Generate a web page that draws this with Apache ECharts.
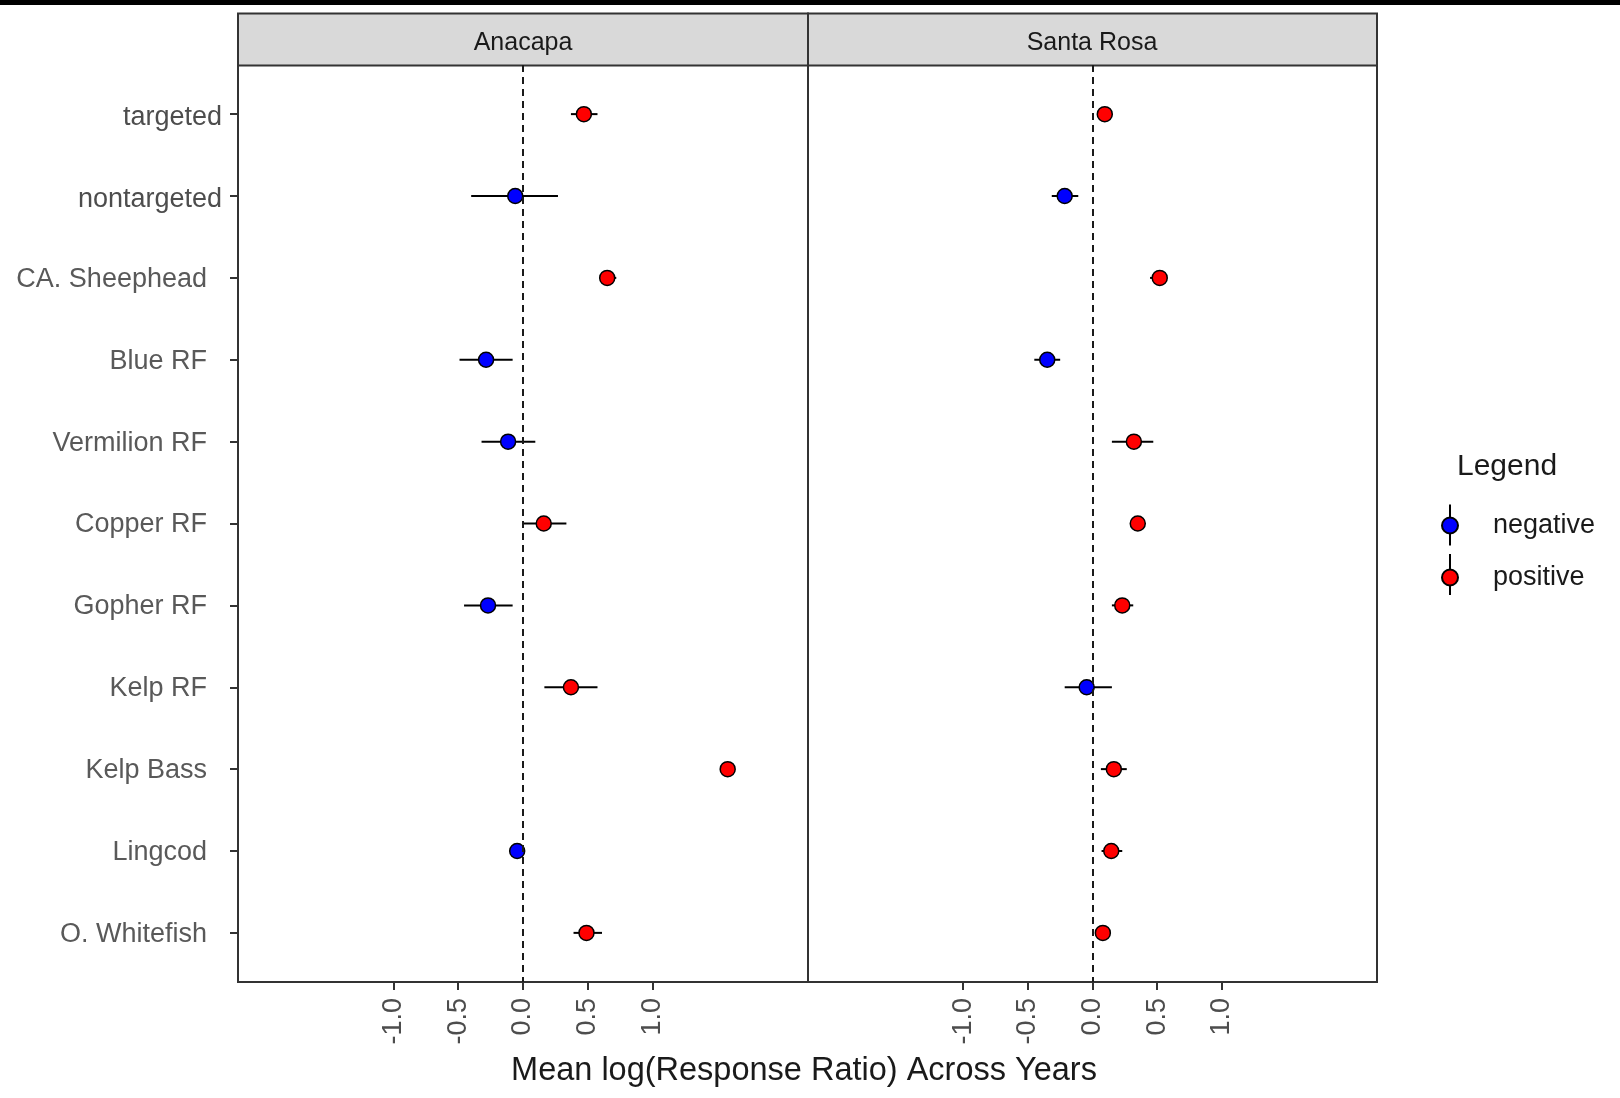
<!DOCTYPE html>
<html>
<head>
<meta charset="utf-8">
<title>Mean log(Response Ratio) Across Years</title>
<script src="https://cdn.jsdelivr.net/npm/echarts@6.0.0/dist/echarts.min.js"></script>
<style>
  html, body { margin: 0; padding: 0; background: #fff; }
  #chart { width: 1620px; height: 1098px; }
</style>
</head>
<body>
<div id="chart"></div>
<script>
// categories, top to bottom
const species = ['targeted', 'nontargeted', 'CA. Sheephead', 'Blue RF', 'Vermilion RF',
  'Copper RF', 'Gopher RF', 'Kelp RF', 'Kelp Bass', 'Lingcod', 'O. Whitefish'];
const sites = ['Anacapa', 'Santa Rosa'];

// mean log response ratio and interval ends
const anacapaMean = [0.47, -0.06, 0.65, -0.285, -0.115, 0.16, -0.27, 0.37, 1.58, -0.045, 0.49];
const anacapaLow  = [0.37, -0.40, 0.60, -0.49, -0.32, 0.00, -0.455, 0.165, 1.56, -0.065, 0.39];
const anacapaHigh = [0.575, 0.27, 0.72, -0.08, 0.095, 0.335, -0.08, 0.575, 1.60, -0.025, 0.61];

const santaRosaMean = [0.095, -0.215, 0.52, -0.35, 0.32, 0.35, 0.23, -0.045, 0.165, 0.145, 0.08];
const santaRosaLow  = [0.075, -0.315, 0.445, -0.45, 0.15, 0.32, 0.15, -0.215, 0.065, 0.07, 0.06];
const santaRosaHigh = [0.115, -0.11, 0.56, -0.25, 0.47, 0.38, 0.315, 0.15, 0.265, 0.23, 0.10];

const xTicks = [-1, -0.5, 0, 0.5, 1];
const yTicks = [1, 2, 3, 4, 5, 6, 7, 8, 9, 10, 11];

const font = "'Liberation Sans', Arial, sans-serif";
const myChart = echarts.init(document.getElementById('chart'));

function pts(mean, sign) {
  const out = [];
  mean.forEach((v, i) => {
    if ((sign < 0 && v < 0) || (sign > 0 && v >= 0)) out.push([v, i + 1]);
  });
  return out;
}

function bars(low, high) {
  return low.map((v, i) => [v, high[i], i + 1]);
}

function errSeries(k, low, high) {
  return {
    type: 'custom',
    xAxisIndex: k, yAxisIndex: k,
    z: 2,
    data: bars(low, high),
    renderItem: function (params, api) {
      const a = api.coord([api.value(0), api.value(2)]);
      const b = api.coord([api.value(1), api.value(2)]);
      return {
        type: 'line',
        shape: { x1: a[0], y1: a[1], x2: b[0], y2: b[1] },
        style: { stroke: '#000', lineWidth: 2 }
      };
    },
    markLine: {
      silent: true,
      symbol: 'none',
      label: { show: false },
      lineStyle: { color: '#1a1a1a', width: 2, type: [7, 5] },
      data: [{ xAxis: 0 }]
    }
  };
}

function pointSeries(k, name, data, color) {
  return {
    type: 'scatter',
    name: name,
    xAxisIndex: k, yAxisIndex: k,
    z: 3,
    symbol: 'circle',
    symbolSize: 15,
    data: data,
    itemStyle: { color: color, borderColor: '#000', borderWidth: 1.5, opacity: 1 }
  };
}

function xAxisOf(k) {
  return {
    type: 'value',
    gridIndex: k,
    min: -2.2,
    max: 2.2,
    splitLine: { show: false },
    axisLine: { show: false, onZero: false },
    axisTick: { show: true, customValues: xTicks, length: 8, lineStyle: { color: '#333', width: 2 } },
    axisLabel: {
      customValues: xTicks,
      rotate: 90,
      margin: 16,
      fontSize: 27,
      fontFamily: font,
      color: '#4d4d4d',
      formatter: v => v.toFixed(1)
    }
  };
}

function yAxisOf(k) {
  return {
    type: 'value',
    gridIndex: k,
    min: 0.4,
    max: 11.6,
    inverse: true,
    splitLine: { show: false },
    axisLine: { show: false, onZero: false },
    axisTick: { show: k === 0, customValues: yTicks, length: 8, lineStyle: { color: '#333', width: 2 } },
    axisLabel: {
      show: k === 0,
      customValues: yTicks,
      margin: 16,
      formatter: function (v) {
        const i = Math.round(v) - 1;
        return i < 2 ? '{t|' + species[i] + '}' : '{s|' + species[i] + '}';
      },
      rich: {
        t: { fontSize: 27, fontFamily: font, color: '#4d4d4d', padding: [7, 0, 0, 0] },
        s: { fontSize: 27, fontFamily: font, color: '#595959', padding: [3, 15, 0, 0] }
      }
    }
  };
}

const option = {
  backgroundColor: '#fff',
  animation: false,
  grid: [
    { left: 238, top: 65, width: 570, height: 917, show: true, borderColor: '#333', borderWidth: 2, backgroundColor: '#fff' },
    { left: 808, top: 65, width: 569, height: 917, show: true, borderColor: '#333', borderWidth: 2, backgroundColor: '#fff' }
  ],
  xAxis: [xAxisOf(0), xAxisOf(1)],
  yAxis: [yAxisOf(0), yAxisOf(1)],
  legend: {
    orient: 'vertical',
    left: 1436,
    top: 507,
    itemWidth: 76,
    itemHeight: 16,
    itemGap: 25,
    selectedMode: false,
    textStyle: { fontSize: 27, fontFamily: font, color: '#1a1a1a', lineHeight: 26 },
    data: [{ name: 'negative', icon: 'circle' }, { name: 'positive', icon: 'circle' }]
  },
  graphic: [
    { type: 'rect', shape: { x: 0, y: 0, width: 1620, height: 5 }, style: { fill: '#000' } },
    // facet strips
    { type: 'rect', shape: { x: 238, y: 13.5, width: 570, height: 52 }, style: { fill: '#d9d9d9', stroke: '#333', lineWidth: 2 } },
    { type: 'rect', shape: { x: 808, y: 13.5, width: 569, height: 52 }, style: { fill: '#d9d9d9', stroke: '#333', lineWidth: 2 } },
    { type: 'text', style: { text: sites[0], x: 523, y: 43, align: 'center', verticalAlign: 'middle', font: '25px ' + font, fill: '#1a1a1a' } },
    { type: 'text', style: { text: sites[1], x: 1092, y: 43, align: 'center', verticalAlign: 'middle', font: '25px ' + font, fill: '#1a1a1a' } },
    // x axis title
    { type: 'text', style: { text: 'Mean log(Response Ratio) Across Years', x: 804, y: 1071, align: 'center', verticalAlign: 'middle', font: '32.5px ' + font, fill: '#1a1a1a' } },
    // legend title and key lines
    { type: 'text', style: { text: 'Legend', x: 1457, y: 467, align: 'left', verticalAlign: 'middle', font: '30px ' + font, fill: '#1a1a1a' } },
    { type: 'line', z: 0, shape: { x1: 1450, y1: 504.5, x2: 1450, y2: 545.5 }, style: { stroke: '#000', lineWidth: 2 } },
    { type: 'line', z: 0, shape: { x1: 1450, y1: 554, x2: 1450, y2: 595 }, style: { stroke: '#000', lineWidth: 2 } }
  ],
  series: [
    errSeries(0, anacapaLow, anacapaHigh),
    pointSeries(0, 'negative', pts(anacapaMean, -1), '#0000ff'),
    pointSeries(0, 'positive', pts(anacapaMean, 1), '#ff0000'),
    errSeries(1, santaRosaLow, santaRosaHigh),
    pointSeries(1, 'negative', pts(santaRosaMean, -1), '#0000ff'),
    pointSeries(1, 'positive', pts(santaRosaMean, 1), '#ff0000')
  ]
};

myChart.setOption(option);
</script>
</body>
</html>
